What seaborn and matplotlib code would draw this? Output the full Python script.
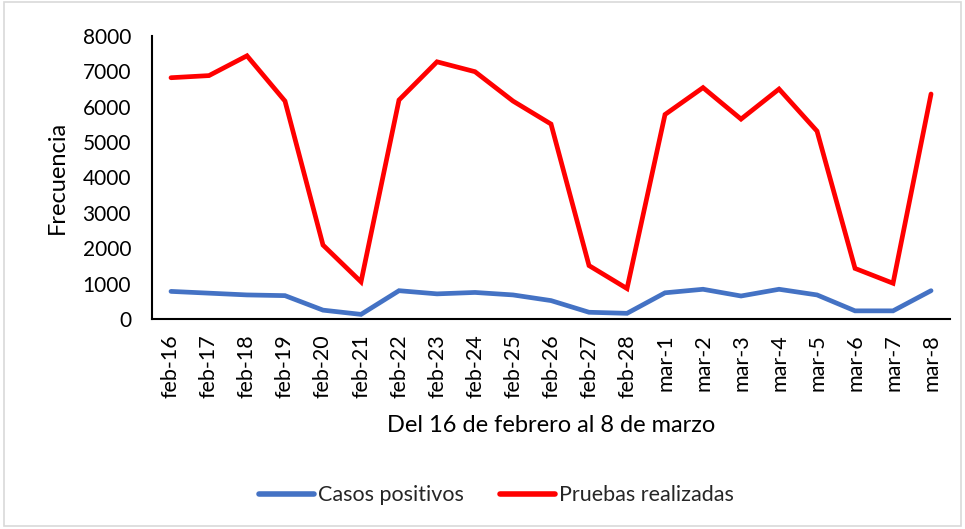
import matplotlib
matplotlib.use("Agg")
import matplotlib.pyplot as plt
import seaborn as sns
import pandas as pd
from matplotlib.patches import Rectangle

fechas = ["feb-16", "feb-17", "feb-18", "feb-19", "feb-20", "feb-21", "feb-22",
          "feb-23", "feb-24", "feb-25", "feb-26", "feb-27", "feb-28", "mar-1",
          "mar-2", "mar-3", "mar-4", "mar-5", "mar-6", "mar-7", "mar-8"]
casos_positivos = [780, 730, 680, 660, 250, 130, 800, 710, 750, 680, 520, 190, 160,
                   740, 840, 650, 840, 680, 230, 230, 800]
pruebas_realizadas = [6820, 6880, 7440, 6160, 2090, 1050, 6190, 7270, 6990, 6160, 5510,
                      1510, 860, 5780, 6540, 5650, 6500, 5310, 1430, 1010, 6360]
y_ticks = [0, 1000, 2000, 3000, 4000, 5000, 6000, 7000, 8000]

sns.set_theme(style="white")
plt.rcParams["font.family"] = ["Lato", "DejaVu Sans"]

df = pd.DataFrame({
    "idx": list(range(len(fechas))) * 2,
    "valor": casos_positivos + pruebas_realizadas,
    "serie": ["Casos positivos"] * len(fechas) + ["Pruebas realizadas"] * len(fechas),
})

fig = plt.figure(figsize=(9.65, 5.29), dpi=100)
ax = fig.add_axes([0.1575, 0.397, 0.827, 0.535])
sns.lineplot(data=df, x="idx", y="valor", hue="serie",
             palette={"Casos positivos": "#4472C4", "Pruebas realizadas": "#FF0000"},
             linewidth=3.4, ax=ax, legend=True)
for line in ax.lines:
    line.set_solid_capstyle("round")
    line.set_solid_joinstyle("miter")

ax.set_xlim(-0.5, len(fechas) - 0.5)
ax.set_ylim(0, 8000)
ax.set_yticks(y_ticks)
ax.set_yticklabels([str(v) for v in y_ticks], fontsize=15, color="black")
ax.set_xticks(range(len(fechas)))
ax.set_xticklabels(fechas, rotation=90, fontsize=15.5, color="black")
ax.tick_params(axis="y", length=0, pad=15)
ax.tick_params(axis="x", length=0, pad=11)
ax.set_xlabel("Del 16 de febrero al 8 de marzo", fontsize=17, color="black", va="center")
ax.set_ylabel("Frecuencia", fontsize=17, color="black", va="center")
ax.xaxis.set_label_coords(0.5, -0.375)
ax.yaxis.set_label_coords(-0.118, 0.5)
for s in ["top", "right"]:
    ax.spines[s].set_visible(False)
for s in ["left", "bottom"]:
    ax.spines[s].set_color("black")
    ax.spines[s].set_linewidth(1.5)

handles, labels = ax.get_legend_handles_labels()
ax.legend_.remove()
leg = fig.legend(handles, labels, loc="center", bbox_to_anchor=(0.5145, 0.064), ncol=2,
                 frameon=False, fontsize=15.5, handlelength=2.55, columnspacing=1.7,
                 handletextpad=0.2)
for h in leg.legend_handles:
    h.set_linewidth(4)
    h.set_solid_capstyle("round")

fig.patches.append(Rectangle((0.004, 0.006), 0.992, 0.99, transform=fig.transFigure,
                             fill=False, edgecolor="#D9D9D9", linewidth=1.2))

fig.savefig("out.png", dpi=100, facecolor="white")
